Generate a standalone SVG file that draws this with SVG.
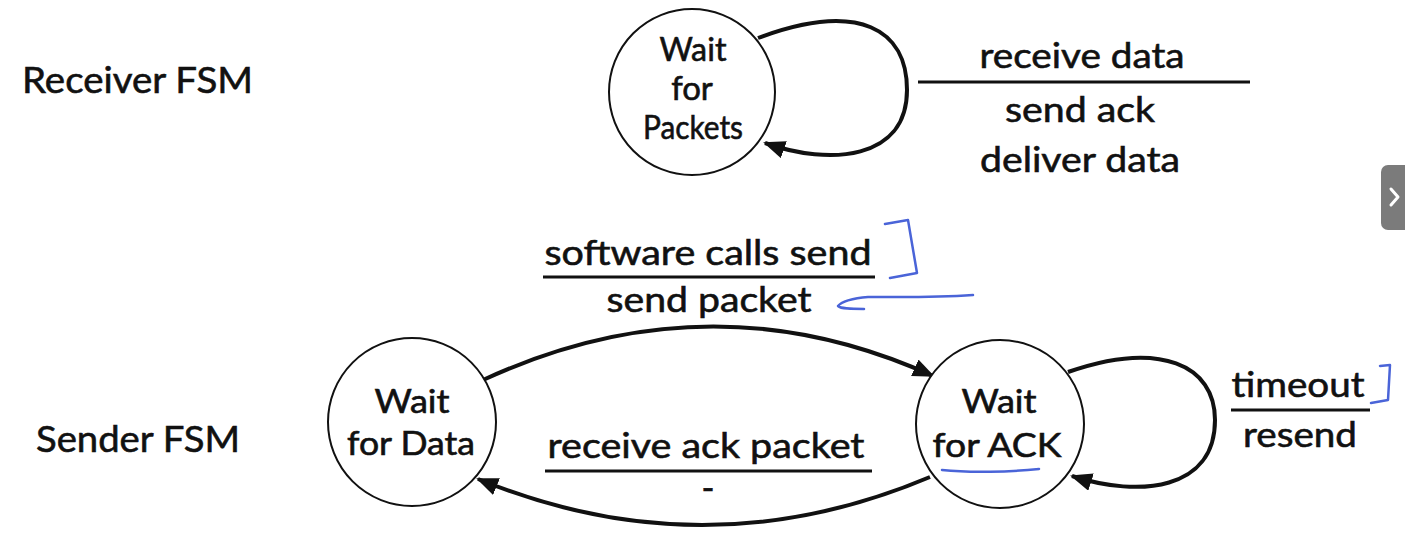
<svg xmlns="http://www.w3.org/2000/svg" width="1405" height="537" viewBox="0 0 1405 537">
<style>
text{font-family:Lato,"Open Sans","Liberation Sans",sans-serif;fill:#111;stroke:#111;stroke-width:0.6;}
.lbl{font-size:37px;}
.st{font-size:33px;text-anchor:middle;}
.tr{font-size:35px;text-anchor:middle;}
.node{fill:#fff;stroke:#111;stroke-width:2;}
.edge{fill:none;stroke:#111;stroke-width:4;marker-end:url(#ah);}
.bar{stroke:#111;stroke-width:3;}
.ink{fill:none;stroke:#4a64d8;stroke-width:2.5;stroke-linecap:round;stroke-linejoin:round;}
</style>
<defs>
<marker id="ah" markerUnits="userSpaceOnUse" markerWidth="24" markerHeight="20" refX="20" refY="9" orient="auto">
<path d="M0,0 L22,9 L0,18 Z" fill="#111"/>
</marker>
</defs>
<rect width="1405" height="537" fill="#fff"/>
<text class="lbl" x="22" y="93" textLength="231" lengthAdjust="spacingAndGlyphs">Receiver FSM</text>
<text class="lbl" x="36" y="452" textLength="204" lengthAdjust="spacingAndGlyphs">Sender FSM</text>
<g id="connectors">
<path class="edge" d="M758,38 C860,0 907,30 907,90 C907,160 830,166 765,143"/>
<path class="edge" d="M483,380 Q710,275 933,376"/>
<path class="edge" d="M930,477 Q705,572 478,479"/>
<path class="edge" d="M1068,372 C1160,340 1215,365 1215,420 C1215,490 1140,498 1072,476"/>
</g>
<g id="node-wait-packets">
<circle class="node" cx="692" cy="92" r="83"/>
<text class="st" x="693" y="61" textLength="67" lengthAdjust="spacingAndGlyphs">Wait</text>
<text class="st" x="692" y="100">for</text>
<text class="st" x="693" y="139" textLength="100" lengthAdjust="spacingAndGlyphs">Packets</text>
</g>
<g id="node-wait-data">
<circle class="node" cx="412" cy="422" r="84"/>
<text class="st" x="412" y="413" textLength="75" lengthAdjust="spacingAndGlyphs">Wait</text>
<text class="st" x="411" y="455" textLength="128" lengthAdjust="spacingAndGlyphs">for Data</text>
</g>
<g id="node-wait-ack">
<circle class="node" cx="1000" cy="424" r="84"/>
<text class="st" x="999" y="413" textLength="75" lengthAdjust="spacingAndGlyphs">Wait</text>
<text class="st" x="997" y="457" textLength="129" lengthAdjust="spacingAndGlyphs">for ACK</text>
</g>
<g id="label-receiver">
<text class="tr" x="1082" y="68" textLength="205" lengthAdjust="spacingAndGlyphs">receive data</text>
<line class="bar" x1="918" y1="82" x2="1250" y2="82"/>
<text class="tr" x="1080" y="122" textLength="150" lengthAdjust="spacingAndGlyphs">send ack</text>
<text class="tr" x="1080" y="172" textLength="200" lengthAdjust="spacingAndGlyphs">deliver data</text>
</g>
<g id="label-send">
<text class="tr" x="708" y="265" textLength="327" lengthAdjust="spacingAndGlyphs">software calls send</text>
<line class="bar" x1="543" y1="277" x2="875" y2="277"/>
<text class="tr" x="709" y="312" textLength="205" lengthAdjust="spacingAndGlyphs">send packet</text>
</g>
<g id="label-ack">
<text class="tr" x="706" y="458" textLength="317" lengthAdjust="spacingAndGlyphs">receive ack packet</text>
<line class="bar" x1="545" y1="471" x2="872" y2="471"/>
<text class="tr" x="708" y="500">-</text>
</g>
<g id="label-timeout">
<text class="tr" x="1298" y="397" textLength="133" lengthAdjust="spacingAndGlyphs">timeout</text>
<line class="bar" x1="1231" y1="410" x2="1370" y2="410"/>
<text class="tr" x="1300" y="447" textLength="114" lengthAdjust="spacingAndGlyphs">resend</text>
</g>
<g id="annotations">
<path class="ink" d="M885,224 L908,220 L917,273 L890,278"/>
<path class="ink" d="M973,295 C930,298 890,297 868,297 C852,298 841,302 838,306 C841,309 852,309 864,309"/>
<path class="ink" d="M942,470 C970,473 1010,472 1039,469"/>
<path class="ink" d="M1380,366 L1390,365 L1388,400 L1371,403"/>
</g>
<g id="nav-tab">
<rect x="1381" y="165" width="34" height="65" rx="7" fill="#7b7b7b"/>
<path d="M1391,189 L1398,197 L1391,205" fill="none" stroke="#fff" stroke-width="3" stroke-linecap="round" stroke-linejoin="round"/>
</g>
</svg>
